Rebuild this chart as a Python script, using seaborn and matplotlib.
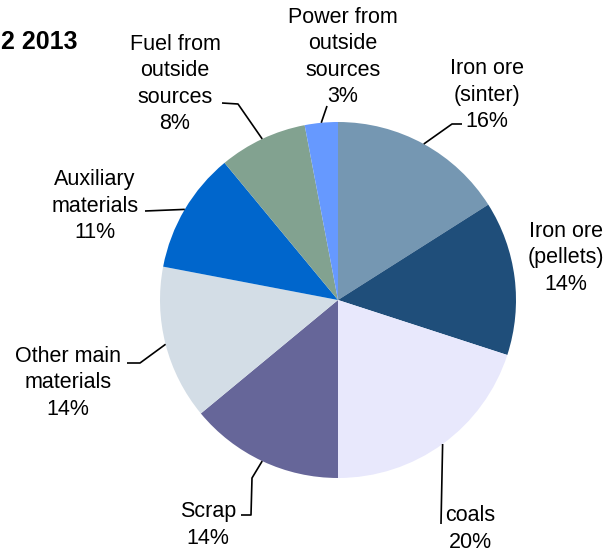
import numpy as np
import matplotlib
matplotlib.use("Agg")
import matplotlib.pyplot as plt
import seaborn as sns

sns.set_theme(style="white")
plt.rcParams["font.family"] = ["Liberation Sans", "DejaVu Sans"]

# Input shares, clockwise from twelve o'clock
categories = ["Iron ore\n(sinter)", "Iron ore\n(pellets)", "coals", "Scrap",
              "Other main\nmaterials", "Auxiliary\nmaterials",
              "Fuel from\noutside\nsources", "Power from\noutside\nsources"]
shares = [16, 14, 20, 14, 14, 11, 8, 3]
colors = ["#7597B2", "#1F4E7A", "#E8E8FC", "#666699",
          "#D3DDE6", "#0066CC", "#82A290", "#6699FF"]
title = "2 2013"

W, H = 606, 554
CX, CY, R = 338, 300, 178  # pie centre and radius in pixels


def px(x, y):
    """Pixel position -> data coordinates (pie radius = 1)."""
    return (x - CX) / R, (CY - y) / R


fig = plt.figure(figsize=(W / 100, H / 100), dpi=100)
ax = fig.add_axes([0, 0, 1, 1])
wedges, _ = ax.pie(shares, colors=colors, startangle=90, counterclock=False,
                   radius=1, wedgeprops=dict(linewidth=0))
ax.set_xlim(-CX / R, (W - CX) / R)
ax.set_ylim(-(H - CY) / R, CY / R)
ax.set_aspect("auto")
ax.axis("off")

# label position (centre of text block) and leader elbows, in pixels
layout = [
    ((487, 95), [(452, 124), (462, 124)]),
    ((566, 258), None),
    ((470, 529), [(441, 524)]),
    ((208, 525), [(252, 478), (251, 515), (241, 515)]),
    ((68, 383), [(140, 363), (127, 363)]),
    ((95, 206), [(145, 211)]),
    ((175, 84), [(238, 104), (222, 103)]),
    ((343, 57), [(327, 106)]),
]

for w, name, share, (tpos, elbows) in zip(wedges, categories, shares, layout):
    ang = np.deg2rad((w.theta1 + w.theta2) / 2)
    tx, ty = px(*tpos)
    ax.text(tx, ty, f"{name}\n{share}%", ha="center", va="center",
            fontsize=15.5, color="black", linespacing=1.32)
    if elbows:
        pts = [(np.cos(ang), np.sin(ang))] + [px(*p) for p in elbows]
        xs, ys = zip(*pts)
        ax.plot(xs, ys, color="black", linewidth=1.2, solid_capstyle="butt")

fig.text(1 / W, 1 - 42 / H, title, ha="left", va="center",
         fontsize=18, fontweight="bold", color="black")

fig.savefig("out.png", dpi=100, facecolor="white")
